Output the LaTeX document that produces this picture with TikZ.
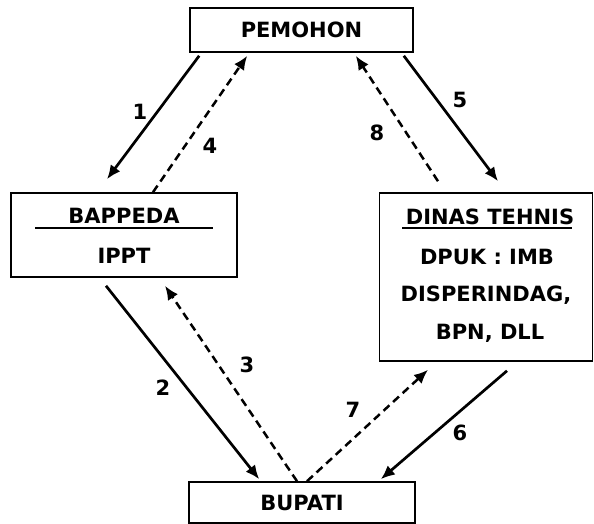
\documentclass[tikz,border=0pt]{standalone}
\usepackage{fontspec}
\setmainfont{DejaVu Sans}
\usepackage{tikz}
\usetikzlibrary{arrows.meta,calc}
\tikzset{
    every node/.append style={align=center,font=\fontsize{21}{25}\selectfont\bfseries},
    box/.style={rectangle,draw=black,line width=1.6pt,inner sep=0pt},
    txt/.style={inner sep=0pt},
    num/.style={inner sep=0pt},
    arr/.style={-{Latex[length=14pt,width=12pt]},line width=2.7pt},
    darr/.style={-{Latex[length=14pt,width=12pt]},line width=2.5pt,dash pattern=on 8pt off 5pt},
    uline/.style={line width=1.6pt}
}
\begin{document}
\begin{tikzpicture}[x=1pt,y=-1pt]
    \useasboundingbox (0,0) rectangle (594,524);
    % boxes
    \node[box,minimum width=223pt,minimum height=44pt]  (pemohon) at (301.5,30)  {PEMOHON};
    \node[box,minimum width=226pt,minimum height=84pt]  (bappeda) at (124,235)   {};
    \node[box,minimum width=213pt,minimum height=168pt] (dinas)   at (486,277)   {};
    \node[box,minimum width=226pt,minimum height=41pt]  (bupati)  at (302,502.5) {BUPATI};

    % box texts
    \node[txt] (bapT)  at (124,216) {BAPPEDA};
    \node[txt] (ippt)  at (124,256) {IPPT};
    \draw[uline] (35,228) -- (213,228);
    \node[txt] (dinT)  at (490,217) {DINAS TEHNIS};
    \node[txt] (dpuk)  at (487,257) {DPUK : IMB};
    \node[txt] (dispr) at (486,295) {DISPERINDAG,};
    \node[txt] (bpn)   at (490,333) {BPN, DLL};
    \draw[uline] (402,228) -- (572,228);

    % connectors
    \draw[arr]  ($(pemohon.south west)+(10,3)$) -- ($(bappeda.north)+(-17,-13)$);
    \draw[darr] ($(bappeda.north)+(29,0)$)       -- ($(pemohon.south west)+(58,3)$);
    \draw[arr]  ($(pemohon.south east)+(-10,3)$) -- ($(dinas.north)+(12,-11)$);
    \draw[darr] ($(dinas.north)+(-48,-11)$)      -- ($(pemohon.south east)+(-58,3)$);
    \draw[arr]  ($(bappeda.south)+(-18,8)$)      -- ($(bupati.north west)+(71,-2)$);
    \draw[darr] ($(bupati.north)+(-5,0)$)        -- ($(bappeda.south)+(41,8)$);
    \draw[darr] ($(bupati.north)+(5,0)$)         -- ($(dinas.south)+(-58,8)$);
    \draw[arr]  ($(dinas.south)+(21,9)$)         -- ($(bupati.north east)+(-35,-2)$);

    % step numbers
    \node[num] (n1) at (140,112) {1};
    \node[num] (n2) at (163,388) {2};
    \node[num] (n3) at (247,365) {3};
    \node[num] (n4) at (210,146) {4};
    \node[num] (n5) at (460,100) {5};
    \node[num] (n6) at (460,433) {6};
    \node[num] (n7) at (353,410) {7};
    \node[num] (n8) at (377,133) {8};
\end{tikzpicture}
\end{document}
